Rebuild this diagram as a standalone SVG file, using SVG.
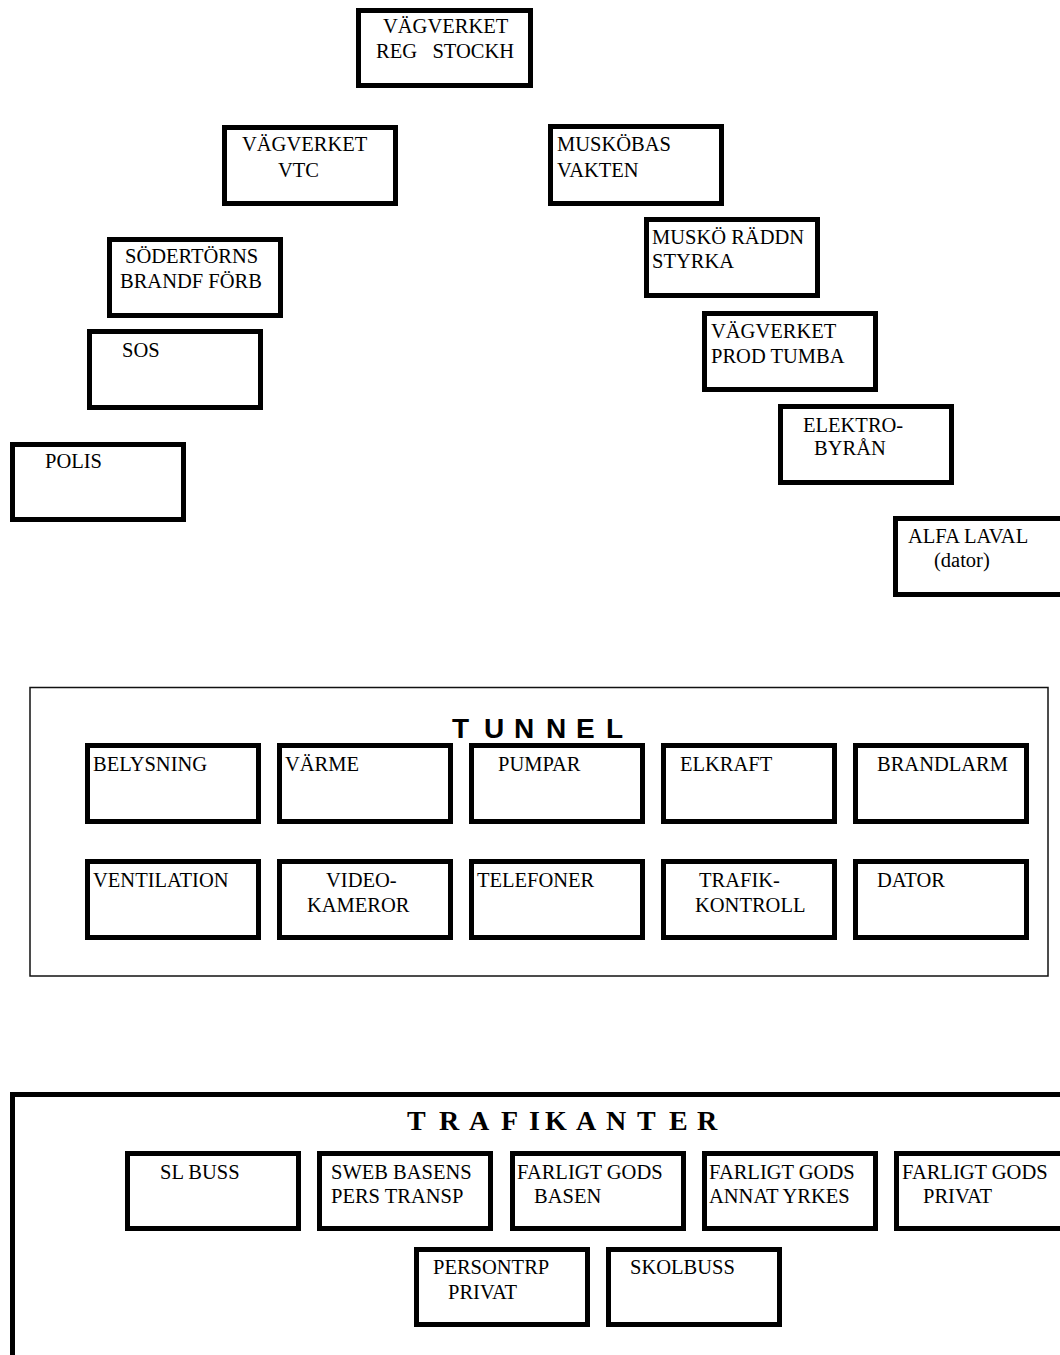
<svg xmlns="http://www.w3.org/2000/svg" width="1060" height="1355" viewBox="0 0 1060 1355">
<style>
.box{fill:#fff;stroke:#000;stroke-width:5}
.t{font-family:"Liberation Serif","Times New Roman",serif;font-size:20.5px;fill:#000}
.frame{fill:none;stroke:#111;stroke-width:1.5}
.frame2{fill:none;stroke:#000;stroke-width:5}
.h1{font-family:"Liberation Sans",Arial,sans-serif;font-weight:bold;font-size:28px;fill:#000}
.h2{font-family:"Liberation Serif","Times New Roman",serif;font-weight:bold;font-size:28px;fill:#000}
</style>
<rect width="1060" height="1355" fill="#fff"/>
<g id="connectors"/>

<g id="n-reg-stockh"><rect class="box" x="358.5" y="10.5" width="172" height="75"/><text class="t" x="383" y="33">VÄGVERKET</text><text class="t" x="376" y="58" xml:space="preserve">REG   STOCKH</text></g>
<g id="n-vtc"><rect class="box" x="224.5" y="127.5" width="171" height="76"/><text class="t" x="242" y="151">VÄGVERKET</text><text class="t" x="278" y="177">VTC</text></g>
<g id="n-muskobas"><rect class="box" x="550.5" y="126.5" width="171" height="77"/><text class="t" x="557" y="151">MUSKÖBAS</text><text class="t" x="557" y="177">VAKTEN</text></g>
<g id="n-sodertorns"><rect class="box" x="109.5" y="239.5" width="171" height="76"/><text class="t" x="125" y="263">SÖDERTÖRNS</text><text class="t" x="120" y="288">BRANDF FÖRB</text></g>
<g id="n-musko-raddn"><rect class="box" x="646.5" y="219.5" width="171" height="76"/><text class="t" x="652" y="244">MUSKÖ RÄDDN</text><text class="t" x="652" y="268">STYRKA</text></g>
<g id="n-sos"><rect class="box" x="89.5" y="331.5" width="171" height="76"/><text class="t" x="122" y="357">SOS</text></g>
<g id="n-prod-tumba"><rect class="box" x="704.5" y="313.5" width="171" height="76"/><text class="t" x="711" y="338">VÄGVERKET</text><text class="t" x="711" y="363">PROD TUMBA</text></g>
<g id="n-elektrobyran"><rect class="box" x="780.5" y="406.5" width="171" height="76"/><text class="t" x="803" y="432">ELEKTRO-</text><text class="t" x="814" y="455">BYRÅN</text></g>
<g id="n-polis"><rect class="box" x="12.5" y="444.5" width="171" height="75"/><text class="t" x="45" y="468">POLIS</text></g>
<g id="n-alfa-laval"><rect class="box" x="895.5" y="518.5" width="171" height="76"/><text class="t" x="908" y="543">ALFA LAVAL</text><text class="t" x="934" y="567">(dator)</text></g>

<g id="tunnel">
<rect class="frame" x="30" y="687.5" width="1018" height="288.5"/>
<text class="h1" x="452 484 514 546 576 606" y="738">TUNNEL</text>
</g>
<g id="n-belysning"><rect class="box" x="87.5" y="745.5" width="171" height="76"/><text class="t" x="93" y="771">BELYSNING</text></g>
<g id="n-varme"><rect class="box" x="279.5" y="745.5" width="171" height="76"/><text class="t" x="285" y="771">VÄRME</text></g>
<g id="n-pumpar"><rect class="box" x="471.5" y="745.5" width="171" height="76"/><text class="t" x="498" y="771">PUMPAR</text></g>
<g id="n-elkraft"><rect class="box" x="663.5" y="745.5" width="171" height="76"/><text class="t" x="680" y="771">ELKRAFT</text></g>
<g id="n-brandlarm"><rect class="box" x="855.5" y="745.5" width="171" height="76"/><text class="t" x="877" y="771">BRANDLARM</text></g>
<g id="n-ventilation"><rect class="box" x="87.5" y="861.5" width="171" height="76"/><text class="t" x="93" y="887">VENTILATION</text></g>
<g id="n-videokameror"><rect class="box" x="279.5" y="861.5" width="171" height="76"/><text class="t" x="326" y="887">VIDEO-</text><text class="t" x="307" y="912">KAMEROR</text></g>
<g id="n-telefoner"><rect class="box" x="471.5" y="861.5" width="171" height="76"/><text class="t" x="477" y="887">TELEFONER</text></g>
<g id="n-trafikkontroll"><rect class="box" x="663.5" y="861.5" width="171" height="76"/><text class="t" x="699" y="887">TRAFIK-</text><text class="t" x="695" y="912">KONTROLL</text></g>
<g id="n-dator"><rect class="box" x="855.5" y="861.5" width="171" height="76"/><text class="t" x="877" y="887">DATOR</text></g>

<g id="trafikanter">
<rect class="frame2" x="12.5" y="1094.5" width="1060" height="280"/>
<text class="h2" x="407 439 469 501 529 545 576 606 637 669 697" y="1130">TRAFIKANTER</text>
</g>
<g id="n-sl-buss"><rect class="box" x="127.5" y="1153.5" width="171" height="75"/><text class="t" x="160" y="1179">SL BUSS</text></g>
<g id="n-sweb"><rect class="box" x="319.5" y="1153.5" width="171" height="75"/><text class="t" x="331" y="1179">SWEB BASENS</text><text class="t" x="331" y="1203">PERS TRANSP</text></g>
<g id="n-fg-basen"><rect class="box" x="512.5" y="1153.5" width="171" height="75"/><text class="t" x="517" y="1179">FARLIGT GODS</text><text class="t" x="534" y="1203">BASEN</text></g>
<g id="n-fg-annat"><rect class="box" x="704.5" y="1153.5" width="171" height="75"/><text class="t" x="709" y="1179">FARLIGT GODS</text><text class="t" x="709" y="1203">ANNAT YRKES</text></g>
<g id="n-fg-privat"><rect class="box" x="896.5" y="1153.5" width="171" height="75"/><text class="t" x="902" y="1179">FARLIGT GODS</text><text class="t" x="923" y="1203">PRIVAT</text></g>
<g id="n-persontrp"><rect class="box" x="416.5" y="1249.5" width="171" height="75"/><text class="t" x="433" y="1274">PERSONTRP</text><text class="t" x="448" y="1299">PRIVAT</text></g>
<g id="n-skolbuss"><rect class="box" x="608.5" y="1249.5" width="171" height="75"/><text class="t" x="630" y="1274">SKOLBUSS</text></g>
</svg>
